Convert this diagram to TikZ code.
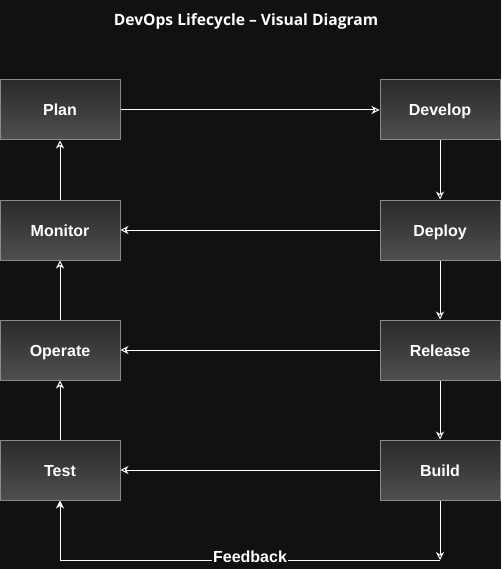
\documentclass[tikz,border=0pt]{standalone}
\usepackage{fontspec}
\setmainfont{Liberation Sans}
\newfontfamily\titlefont{Open Sans}
\usetikzlibrary{arrows.meta}
\definecolor{bg}{HTML}{111111}
\definecolor{boxtop}{HTML}{2A2A2A}
\definecolor{boxbot}{HTML}{4F4F4F}
\definecolor{boxline}{HTML}{8A8A8A}
\tikzset{
	stage/.style={rectangle,draw=boxline,line width=1pt,top color=boxtop,bottom color=boxbot,
		minimum width=120pt,minimum height=60pt,inner sep=0pt,text=white,
		text height=12pt,text depth=0pt,
		font=\fontsize{16}{18}\selectfont\bfseries},
	flow/.style={draw=white,line width=1pt,-{Stealth[length=8pt,width=8pt,inset=2.5pt]}}
}
\begin{document}
\begin{tikzpicture}[x=1pt,y=-1pt]
			\fill[bg] (0,0) rectangle (501,569);
			\useasboundingbox (0,0) rectangle (501,569);
			\draw (246,21) node [text=white,font=\titlefont\fontsize{15.6}{18}\selectfont\bfseries] (title) {DevOps Lifecycle – Visual Diagram};
			\draw (60,110) node [stage] (plan) {Plan};
			\draw (440,110) node [stage] (develop) {Develop};
			\draw (60,230) node [stage] (monitor) {Monitor};
			\draw (440,230) node [stage] (deploy) {Deploy};
			\draw (60,350) node [stage] (operate) {Operate};
			\draw (440,350) node [stage] (release) {Release};
			\draw (60,470) node [stage] (test) {Test};
			\draw (440,470) node [stage] (build) {Build};
			\coordinate (fb) at (440,560);
			\path[flow]
				(plan) edge (develop)
				(develop) edge (deploy)
				(deploy) edge (monitor)
					edge (release)
				(release) edge (operate)
					edge (build)
				(build) edge (test)
					edge (fb)
				(test) edge (operate)
				(operate) edge (monitor)
				(monitor) edge (plan);
			\draw[flow] (fb) -| node [pos=0.25,fill=bg,text=white,inner sep=1pt,yshift=3pt,font=\fontsize{16}{18}\selectfont\bfseries] (feedback) {Feedback} (test);
		\end{tikzpicture}
\end{document}
